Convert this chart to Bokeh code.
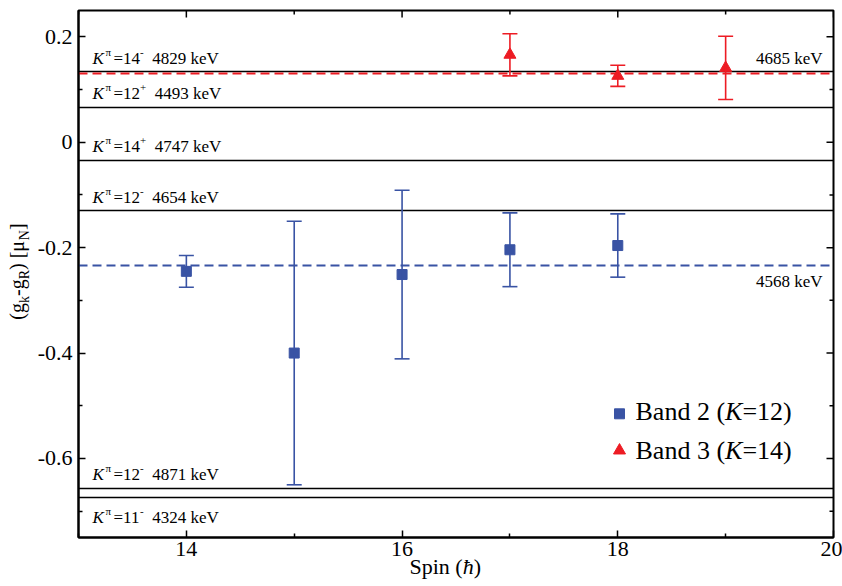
import math
from bokeh.plotting import figure
from bokeh.models import (ColumnDataSource, Whisker, TeeHead, Label, FixedTicker, Range1d)
from bokeh.core.properties import value
from bokeh.embed import file_html
from bokeh.resources import INLINE

# ---------------- data ----------------
band2_spin = [14, 15, 16, 17, 18]
band2_g = [-0.245, -0.400, -0.251, -0.204, -0.196]
band2_err = [0.030, 0.250, 0.160, 0.070, 0.060]

band3_spin = [17, 18, 19]
band3_g = [0.166, 0.126, 0.141]
band3_err = [0.040, 0.020, 0.060]

band2_mean = -0.233
band3_mean = 0.131
band2_mean_text = "4568 keV"
band3_mean_text = "4685 keV"

level_K = [14, 12, 14, 12, 12, 11]
level_parity = ["-", "+", "+", "-", "-", "-"]
level_energy = [4829, 4493, 4747, 4654, 4871, 4324]
level_g = [0.1335, 0.066, -0.035, -0.130, -0.657, -0.675]
level_side = ["above", "above", "above", "above", "above", "below"]

legend_names = ["Band 2 (", "Band 3 ("]
legend_K = [12, 14]

x_major = [14, 16, 18, 20]
x_minor = [13, 15, 17, 19]
y_major = [-0.6, -0.4, -0.2, 0, 0.2]
y_major_labels = ["-0.6", "-0.4", "-0.2", "0", "0.2"]
y_minor = [-0.7, -0.5, -0.3, -0.1, 0.1]

# ---------------- style ----------------
FONT = "Liberation Serif"
BLUE = "#3953a4"
RED = "#ed1c24"
X0, X1, Y0, Y1 = 13, 20, -0.75, 0.25
FW, FH = 755, 527
PXX = FW / (X1 - X0)
PXY = FH / (Y1 - Y0)
MID = 0.3375  # baseline -> middle of the text box, in em

W = {" ": .25, "=": .564, "(": .333, ")": .333, "[": .333, "]": .333, "-": .333,
     "+": .564, "B": .667, "a": .444, "n": .5, "d": .5, "k": .5, "e": .444,
     "V": .722, "g": .5, "R": .667, "N": .722, "μ": .576, "S": .556, "p": .5,
     "i": .278, "K": .667, "π": .55, "ħ": .5}


def tw(s, size):
    return sum(W.get(c, 0.5) for c in s) * size


p = figure(width=842, height=586, x_range=Range1d(X0, X1), y_range=Range1d(Y0, Y1),
           output_backend="svg", toolbar_location=None,
           min_border_left=78, min_border_right=9, min_border_top=10, min_border_bottom=49)
p.xgrid.visible = False
p.ygrid.visible = False
p.outline_line_color = "black"
p.outline_line_width = 2
p.background_fill_color = "white"
p.border_fill_color = "white"

xt = FixedTicker(ticks=x_major, minor_ticks=x_minor)
yt = FixedTicker(ticks=y_major, minor_ticks=y_minor)

for ax in (p.xaxis[0], p.yaxis[0]):
    ax.axis_line_color = "black"
    ax.axis_line_width = 2
    ax.major_tick_in = 7
    ax.major_tick_out = 0
    ax.minor_tick_in = 4
    ax.minor_tick_out = 0
    ax.major_tick_line_width = 1.5
    ax.minor_tick_line_width = 1.5
    ax.major_label_text_font = FONT
    ax.major_label_text_font_size = "22px"
    ax.major_label_text_color = "black"
p.xaxis.ticker = xt
p.yaxis.ticker = yt
p.yaxis.major_label_overrides = {v: s for v, s in zip(y_major, y_major_labels)}
p.xaxis.major_label_standoff = 4
p.yaxis.major_label_standoff = 6

# inward ticks on the top and right edges of the frame
p.ray(x=x_major, y=Y1, length=7, length_units="screen", angle=-math.pi / 2,
      line_color="black", line_width=1.5)
p.ray(x=x_minor, y=Y1, length=4, length_units="screen", angle=-math.pi / 2,
      line_color="black", line_width=1.5)
p.ray(x=X1, y=y_major, length=7, length_units="screen", angle=math.pi,
      line_color="black", line_width=1.5)
p.ray(x=X1, y=y_minor, length=4, length_units="screen", angle=math.pi,
      line_color="black", line_width=1.5)

# level lines
p.hspan(y=level_g, line_color="black", line_width=1.6)
# band mean lines
p.hspan(y=[band3_mean], line_color=RED, line_width=2, line_dash="9 5")
p.hspan(y=[band2_mean], line_color=BLUE, line_width=2, line_dash="9 5")

# error bars
for spin, g, err, col in [(band2_spin, band2_g, band2_err, BLUE),
                          (band3_spin, band3_g, band3_err, RED)]:
    src = ColumnDataSource(dict(x=spin, y=g,
                                upper=[a + b for a, b in zip(g, err)],
                                lower=[a - b for a, b in zip(g, err)]))
    p.add_layout(Whisker(source=src, base="x", upper="upper", lower="lower",
                         dimension="height", line_color=col, line_width=1.6,
                         upper_head=TeeHead(size=15, line_color=col, line_width=1.6),
                         lower_head=TeeHead(size=15, line_color=col, line_width=1.6),
                         level="glyph"))

p.scatter(band2_spin, band2_g, marker="square", size=10, color=BLUE)
p.scatter(band3_spin, band3_g, marker="triangle", size=12, color=RED)


def label(x, y, text, size, dx=0.0, dy=0.0, style="normal", align="left"):
    # dy = baseline offset in px (positive = up)
    p.add_layout(Label(x=x, y=y, x_offset=dx, y_offset=dy + MID * size, text=text,
                       text_font=FONT, text_font_size=f"{size}px",
                       text_font_style=style, text_color="black",
                       text_align=align, text_baseline="middle"))


def gtext(x, y, text, size, dx=0.0, dy=0.0, style="normal", angle=0.0):
    # glyph text drawn at overlay level (not clipped); dx, dy = baseline offsets, dy positive = down
    if angle == 0:
        dy = dy - MID * size
    else:
        dx = dx - MID * size
    p.text(x=[x], y=[y], text=[text], x_offset=dx, y_offset=dy, angle=angle,
           text_font=value(FONT), text_font_size=f"{size}px", text_font_style=style,
           text_color="black", text_align="left", text_baseline="middle",
           level="overlay")


# level labels
BASE, SUP = 17, 11
for K, par, E, g, side in zip(level_K, level_parity, level_energy, level_g, level_side):
    dy = 8 if side == "above" else -25.6
    x0 = 14
    label(X0, g, "K", BASE, x0, dy, "italic")
    label(X0, g, "π", SUP, x0 + 13, dy + 8.5)
    eq = f"={K}"
    label(X0, g, eq, BASE, x0 + 21, dy)
    sx = x0 + 21 + tw(eq, BASE)
    label(X0, g, par, SUP, sx, dy + 8)
    ex = sx + tw(par, SUP) + 8.5
    label(X0, g, f"{E} keV", BASE, ex, dy)

# band mean labels (right side)
label(X1, band3_mean, band3_mean_text, BASE, -11, 8.7, align="right")
label(X1, band2_mean, band2_mean_text, BASE, -11, -22, align="right")

# y axis title (rotated, with subscripts)
yl = [("(g", 20, 0), ("k", 14, -5), ("-g", 20, 0), ("R", 14, -5),
      (") [μ", 20, 0), ("N", 14, -5), ("]", 20, 0)]
L = sum(tw(t, s) for t, s, _ in yl)
pos = -L / 2 + 2.5
for t, s, r in yl:
    gtext(X0, (Y0 + Y1) / 2, t, s, dx=-54.5 - r, dy=-pos, angle=math.pi / 2)
    pos += tw(t, s)

# x axis title
xl = [("Spin (", "normal"), ("ħ", "italic"), (")", "normal")]
pos = 331
for t, st in xl:
    gtext(X0, Y0, t, 22, dx=pos, dy=36, style=st)
    pos += tw(t, 22)

# legend
LS = 26
rows_dy = [117, 78.7]
for name, K, dy in zip(legend_names, legend_K, rows_dy):
    pos = -198
    for t, st in [(name, "normal"), ("K", "italic"), (f"={K})", "normal")]:
        label(X1, Y0, t, LS, dx=pos, dy=dy, style=st)
        pos += tw(t, LS)

sw_x = X1 - 214 / PXX
p.scatter([sw_x], [Y0 + 123.7 / PXY], marker="square", size=10, color=BLUE)
p.scatter([sw_x], [Y0 + 87 / PXY], marker="triangle", size=12, color=RED)

open("out.html", "w").write(file_html(p, INLINE))
